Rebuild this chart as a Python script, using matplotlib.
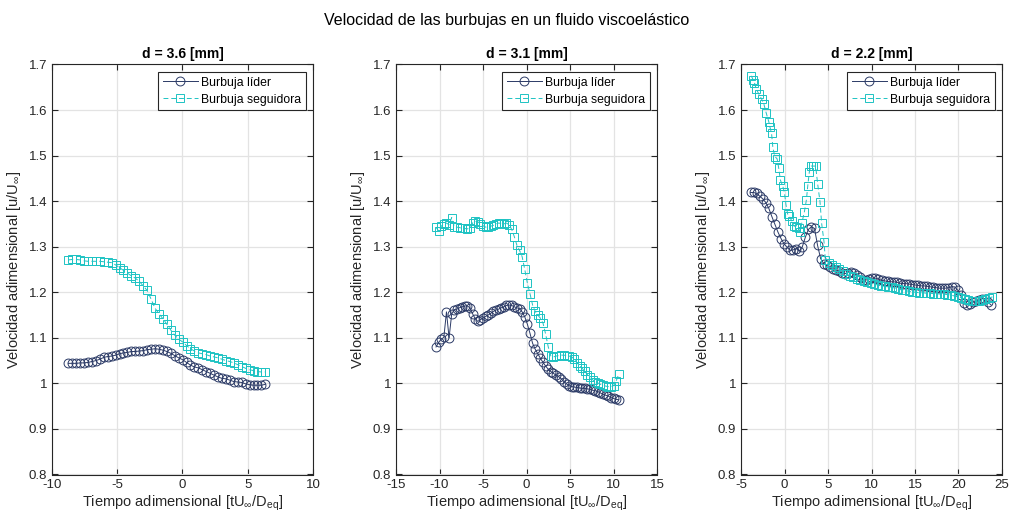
import matplotlib
matplotlib.use("Agg")
import matplotlib.pyplot as plt
import numpy as np
from matplotlib.ticker import FormatStrFormatter, MultipleLocator

plt.rcParams['font.family'] = ['Liberation Sans', 'DejaVu Sans']
plt.rcParams['mathtext.fontset'] = 'custom'
plt.rcParams['mathtext.rm'] = 'Liberation Sans'
plt.rcParams['mathtext.it'] = 'Liberation Sans:italic'
plt.rcParams['axes.unicode_minus'] = False

# ---- data ----
titles = ['d = 3.6 [mm]', 'd = 3.1 [mm]', 'd = 2.2 [mm]']
xlims = [(-10, 10), (-15, 15), (-5, 25)]
series_names = ['Burbuja líder', 'Burbuja seguidora']

# d = 3.6 mm
v1_lider = [1.044, 1.044, 1.044, 1.045, 1.045, 1.046, 1.048, 1.050, 1.053, 1.057,
            1.059, 1.060, 1.062, 1.065, 1.067, 1.068, 1.070, 1.070, 1.071, 1.072,
            1.074, 1.075, 1.076, 1.075, 1.073, 1.070, 1.066, 1.061, 1.056, 1.052,
            1.046, 1.040, 1.036, 1.034, 1.030, 1.026, 1.022, 1.018, 1.014, 1.011,
            1.010, 1.007, 1.004, 1.003, 1.002, 0.999, 0.997, 0.996, 0.996, 0.996,
            0.998]
v1_seg = [1.271, 1.272, 1.272, 1.271, 1.269, 1.268, 1.268, 1.268, 1.268, 1.267,
          1.266, 1.265, 1.260, 1.254, 1.248, 1.242, 1.236, 1.231, 1.224, 1.214,
          1.204, 1.185, 1.165, 1.153, 1.142, 1.130, 1.117, 1.106, 1.097, 1.091,
          1.083, 1.076, 1.071, 1.067, 1.065, 1.063, 1.060, 1.058, 1.056, 1.053,
          1.050, 1.048, 1.045, 1.041, 1.037, 1.033, 1.030, 1.028, 1.026, 1.025,
          1.025]
t1_lider = np.linspace(-8.75, 6.35, len(v1_lider))
t1_seg = np.linspace(-8.75, 6.35, len(v1_seg))

# d = 3.1 mm
v2_lider = [1.080, 1.090, 1.097, 1.101, 1.157, 1.100, 1.152, 1.162, 1.163, 1.166,
            1.168, 1.170, 1.170, 1.166, 1.153, 1.142, 1.136, 1.140, 1.143, 1.147,
            1.150, 1.154, 1.158, 1.161, 1.163, 1.166, 1.168, 1.171, 1.172, 1.171,
            1.168, 1.166, 1.164, 1.157, 1.146, 1.130, 1.110, 1.088, 1.075, 1.065,
            1.055, 1.046, 1.038, 1.031, 1.026, 1.022, 1.018, 1.015, 1.010, 1.004,
            0.999, 0.995, 0.993, 0.992, 0.991, 0.990, 0.989, 0.989, 0.988, 0.987,
            0.985, 0.984, 0.982, 0.979, 0.976, 0.974, 0.972, 0.969, 0.967, 0.965,
            0.964]
v2_seg = [1.343, 1.334, 1.345, 1.350, 1.352, 1.348, 1.364, 1.344, 1.343, 1.342,
          1.340, 1.340, 1.339, 1.342, 1.352, 1.356, 1.355, 1.350, 1.346, 1.343,
          1.343, 1.345, 1.347, 1.350, 1.352, 1.351, 1.350, 1.352, 1.348, 1.338,
          1.322, 1.303, 1.292, 1.278, 1.250, 1.220, 1.197, 1.172, 1.158, 1.150,
          1.143, 1.132, 1.108, 1.080, 1.060, 1.058, 1.060, 1.061, 1.062, 1.062,
          1.061, 1.060, 1.058, 1.053, 1.045, 1.039, 1.033, 1.027, 1.019, 1.013,
          1.008, 1.004, 1.001, 0.998, 0.996, 0.994, 0.993, 0.993, 0.995, 1.005,
          1.020]
t2_lider = np.linspace(-10.4, 10.6, len(v2_lider))
t2_seg = np.linspace(-10.4, 10.6, len(v2_seg))

# d = 2.2 mm
v3_lider = [1.419, 1.419, 1.417, 1.411, 1.405, 1.397, 1.384, 1.366, 1.349, 1.332,
            1.318, 1.306, 1.299, 1.292, 1.293, 1.296, 1.290, 1.300, 1.321, 1.338,
            1.344, 1.340, 1.303, 1.274, 1.263, 1.259, 1.255, 1.252, 1.249, 1.246,
            1.243, 1.241, 1.243, 1.245, 1.243, 1.239, 1.233, 1.228, 1.227, 1.229,
            1.231, 1.231, 1.229, 1.226, 1.225, 1.224, 1.223, 1.223, 1.222, 1.220,
            1.219, 1.219, 1.218, 1.217, 1.216, 1.215, 1.214, 1.214, 1.213, 1.212,
            1.211, 1.210, 1.209, 1.209, 1.209, 1.210, 1.212, 1.212, 1.205, 1.193,
            1.176, 1.172, 1.175, 1.178, 1.180, 1.182, 1.186, 1.186, 1.178, 1.172]
t3_lider = np.linspace(-3.9, 23.75, len(v3_lider))
t3_seg = [-3.82, -3.62, -3.45, -3.25, -2.94, -2.63, -2.37, -2.11, -1.80, -1.68,
          -1.49, -1.34, -1.11, -0.85, -0.66, -0.47, -0.20, -0.01, 0.17, 0.36,
          0.55, 0.85, 1.04, 1.31, 1.61, 1.80, 1.98, 2.29, 2.52, 2.67,
          2.86, 3.06, 3.33, 3.58, 3.81, 4.08, 4.27, 4.54, 4.70, 5.10,
          5.50, 5.90, 6.30, 6.70, 7.10, 7.50, 7.90, 8.30, 8.70, 9.10,
          9.50, 9.90, 10.30, 10.70, 11.10, 11.50, 11.90, 12.30, 12.70, 13.10,
          13.50, 13.90, 14.30, 14.70, 15.10, 15.50, 15.90, 16.30, 16.70, 17.10,
          17.50, 17.90, 18.30, 18.70, 19.10, 19.50, 19.90, 20.30, 20.70, 21.10,
          21.50, 21.90, 22.30, 22.70, 23.10, 23.50, 23.90]
v3_seg = [1.675, 1.667, 1.660, 1.646, 1.635, 1.624, 1.613, 1.594, 1.574, 1.563,
          1.549, 1.518, 1.498, 1.493, 1.472, 1.446, 1.433, 1.419, 1.392, 1.372,
          1.367, 1.356, 1.346, 1.344, 1.340, 1.333, 1.351, 1.377, 1.403, 1.433,
          1.465, 1.477, 1.477, 1.477, 1.438, 1.399, 1.351, 1.311, 1.271, 1.265,
          1.260, 1.256, 1.251, 1.246, 1.240, 1.236, 1.233, 1.230, 1.227, 1.224,
          1.222, 1.220, 1.218, 1.216, 1.214, 1.213, 1.212, 1.211, 1.209, 1.207,
          1.205, 1.204, 1.202, 1.201, 1.200, 1.199, 1.199, 1.198, 1.198, 1.197,
          1.197, 1.196, 1.196, 1.195, 1.194, 1.192, 1.190, 1.188, 1.185, 1.183,
          1.181, 1.180, 1.181, 1.183, 1.185, 1.187, 1.190]

panels = [(t1_lider, v1_lider, t1_seg, v1_seg),
          (t2_lider, v2_lider, t2_seg, v2_seg),
          (t3_lider, v3_lider, t3_seg, v3_seg)]

navy = '#2b3a66'
cyan = '#1dc3c3'

fig = plt.figure(figsize=(10.14, 5.2), dpi=100)
lefts = [52 / 1014, 396 / 1014, 741 / 1014]
bottom, height = 0.0875, 0.7885
width = 261 / 1014

for i, (tl, vl, ts, vs) in enumerate(panels):
    ax = fig.add_axes([lefts[i], bottom, width, height])
    ax.plot(tl, vl, '-o', color=navy, mfc='none', ms=6.4, mew=0.7, lw=0.7,
            label=series_names[0])
    ax.plot(ts, vs, '--s', color=cyan, mfc='none', ms=5.4, mew=0.7, lw=0.7,
            dashes=(5, 3), label=series_names[1])
    ax.set_xlim(*xlims[i])
    ax.set_ylim(0.8, 1.7)
    ax.xaxis.set_major_locator(MultipleLocator(5))
    ax.yaxis.set_major_locator(MultipleLocator(0.1))
    ax.yaxis.set_major_formatter(FormatStrFormatter('%g'))
    ax.grid(True, color='#e3e3e3', lw=0.9)
    ax.set_axisbelow(True)
    ax.tick_params(direction='in', top=True, right=True, length=4,
                   labelsize=9.5, colors='#262626')
    for s in ax.spines.values():
        s.set_color('#262626')
        s.set_linewidth(0.8)
    ax.set_title(titles[i], fontsize=10, fontweight='bold', pad=5)
    ax.set_xlabel(r'Tiempo adimensional [tU$_{\infty}$/D$_{\mathrm{eq}}$]',
                  fontsize=10.5, color='#262626', labelpad=2)
    ax.set_ylabel(r'Velocidad adimensional [u/U$_{\infty}$]',
                  fontsize=10.5, color='#262626', labelpad=4)
    leg = ax.legend(loc='upper right', fontsize=8.8, fancybox=False,
                    edgecolor='#262626', framealpha=1, handlelength=2.9,
                    borderpad=0.4, labelspacing=0.4, handletextpad=0.2,
                    borderaxespad=0.6)
    leg.get_frame().set_linewidth(0.8)

fig.suptitle('Velocidad de las burbujas en un fluido viscoelástico',
             fontsize=11.5, y=0.975)
fig.savefig('out.png', dpi=100)
